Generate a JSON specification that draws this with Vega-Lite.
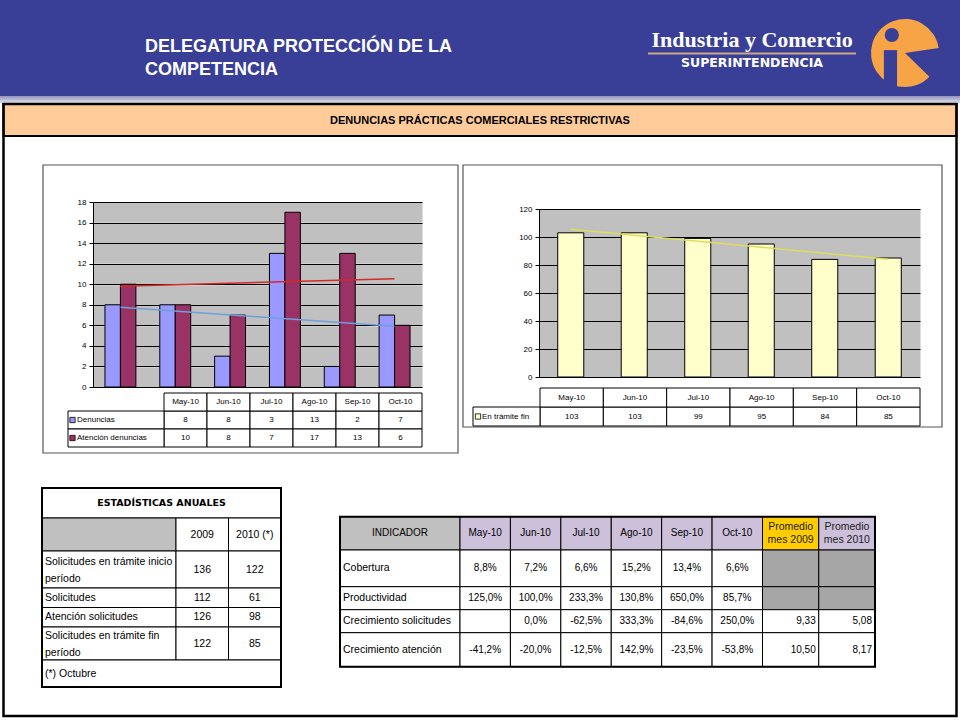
{
"$schema":"https://vega.github.io/schema/vega-lite/v6.json",
"width":960,"height":720,"padding":0,"autosize":{"type":"none"},"background":"white",
"config":{"view":{"stroke":null},"font":"Liberation Sans","locale":{"number":{"decimal":",","thousands":".","grouping":[3],"currency":["$",""],"minus":"-"}}},
"datasets":{
"den":[
{"mes":"May-10","idx":1,"serie":"Denuncias","valor":8},
{"mes":"Jun-10","idx":2,"serie":"Denuncias","valor":8},
{"mes":"Jul-10","idx":3,"serie":"Denuncias","valor":3},
{"mes":"Ago-10","idx":4,"serie":"Denuncias","valor":13},
{"mes":"Sep-10","idx":5,"serie":"Denuncias","valor":2},
{"mes":"Oct-10","idx":6,"serie":"Denuncias","valor":7},
{"mes":"May-10","idx":1,"serie":"Atención denuncias","valor":10},
{"mes":"Jun-10","idx":2,"serie":"Atención denuncias","valor":8},
{"mes":"Jul-10","idx":3,"serie":"Atención denuncias","valor":7},
{"mes":"Ago-10","idx":4,"serie":"Atención denuncias","valor":17},
{"mes":"Sep-10","idx":5,"serie":"Atención denuncias","valor":13},
{"mes":"Oct-10","idx":6,"serie":"Atención denuncias","valor":6}],
"tram":[
{"mes":"May-10","idx":1,"serie":"En trámite fin","valor":103},
{"mes":"Jun-10","idx":2,"serie":"En trámite fin","valor":103},
{"mes":"Jul-10","idx":3,"serie":"En trámite fin","valor":99},
{"mes":"Ago-10","idx":4,"serie":"En trámite fin","valor":95},
{"mes":"Sep-10","idx":5,"serie":"En trámite fin","valor":84},
{"mes":"Oct-10","idx":6,"serie":"En trámite fin","valor":85}],
"anual":[
{"fila":"Solicitudes en trámite inicio\nperíodo","2009":136,"2010 (*)":122},
{"fila":"Solicitudes","2009":112,"2010 (*)":61},
{"fila":"Atención solicitudes","2009":126,"2010 (*)":98},
{"fila":"Solicitudes en trámite fin\nperíodo","2009":122,"2010 (*)":85}],
"ind":[
{"indicador":"Cobertura","col":"May-10","valor":0.088},
{"indicador":"Cobertura","col":"Jun-10","valor":0.072},
{"indicador":"Cobertura","col":"Jul-10","valor":0.066},
{"indicador":"Cobertura","col":"Ago-10","valor":0.152},
{"indicador":"Cobertura","col":"Sep-10","valor":0.134},
{"indicador":"Cobertura","col":"Oct-10","valor":0.066},
{"indicador":"Cobertura","col":"Promedio\nmes 2009","valor":null},
{"indicador":"Cobertura","col":"Promedio\nmes 2010","valor":null},
{"indicador":"Productividad","col":"May-10","valor":1.25},
{"indicador":"Productividad","col":"Jun-10","valor":1.0},
{"indicador":"Productividad","col":"Jul-10","valor":2.333},
{"indicador":"Productividad","col":"Ago-10","valor":1.308},
{"indicador":"Productividad","col":"Sep-10","valor":6.5},
{"indicador":"Productividad","col":"Oct-10","valor":0.857},
{"indicador":"Productividad","col":"Promedio\nmes 2009","valor":null},
{"indicador":"Productividad","col":"Promedio\nmes 2010","valor":null},
{"indicador":"Crecimiento solicitudes","col":"May-10","valor":null},
{"indicador":"Crecimiento solicitudes","col":"Jun-10","valor":0},
{"indicador":"Crecimiento solicitudes","col":"Jul-10","valor":-0.625},
{"indicador":"Crecimiento solicitudes","col":"Ago-10","valor":3.333},
{"indicador":"Crecimiento solicitudes","col":"Sep-10","valor":-0.846},
{"indicador":"Crecimiento solicitudes","col":"Oct-10","valor":2.5},
{"indicador":"Crecimiento solicitudes","col":"Promedio\nmes 2009","valor":9.33},
{"indicador":"Crecimiento solicitudes","col":"Promedio\nmes 2010","valor":5.08},
{"indicador":"Crecimiento atención","col":"May-10","valor":-0.412},
{"indicador":"Crecimiento atención","col":"Jun-10","valor":-0.2},
{"indicador":"Crecimiento atención","col":"Jul-10","valor":-0.125},
{"indicador":"Crecimiento atención","col":"Ago-10","valor":1.429},
{"indicador":"Crecimiento atención","col":"Sep-10","valor":-0.235},
{"indicador":"Crecimiento atención","col":"Oct-10","valor":-0.538},
{"indicador":"Crecimiento atención","col":"Promedio\nmes 2009","valor":10.5},
{"indicador":"Crecimiento atención","col":"Promedio\nmes 2010","valor":8.17}]
},
"resolve":{"scale":{"x":"independent","y":"independent","xOffset":"independent"},"axis":{"x":"independent","y":"independent"}},
"layer":[
{"data":{"values":[{"zona":"encabezado"}]},"mark":{"type":"rect","fill":"#393e97"},
 "encoding":{"x":{"field":"zona","type":"nominal","scale":{"type":"band","range":[0,960],"paddingInner":0,"paddingOuter":0},"axis":null},
  "y":{"field":"zona","type":"nominal","scale":{"type":"band","range":[0,96],"paddingInner":0,"paddingOuter":0},"axis":null}}},
{"data":{"values":[{"zona":"franja"}]},"mark":{"type":"rect","fill":{"gradient":"linear","x1":0,"y1":0,"x2":0,"y2":1,"stops":[{"offset":0,"color":"#8f92bd"},{"offset":1,"color":"#e2e2ea"}]}},
 "encoding":{"x":{"field":"zona","type":"nominal","scale":{"type":"band","range":[0,960],"paddingInner":0,"paddingOuter":0},"axis":null},
  "y":{"field":"zona","type":"nominal","scale":{"type":"band","range":[96,103],"paddingInner":0,"paddingOuter":0},"axis":null}}},
{"data":{"values":[{"linea":"DELEGATURA PROTECCIÓN DE LA"},{"linea":"COMPETENCIA"}]},
 "mark":{"type":"text","align":"left","baseline":"middle","fontSize":18,"fontWeight":"bold","color":"white"},
 "encoding":{"x":{"datum":"titulo","type":"nominal","bandPosition":0,"scale":{"type":"band","domain":["titulo"],"range":[145,470],"paddingInner":0,"paddingOuter":0},"axis":null},
  "y":{"field":"linea","type":"nominal","sort":null,"scale":{"type":"band","range":[36,81],"paddingInner":0,"paddingOuter":0},"axis":null},
  "text":{"field":"linea"}}},
{"data":{"values":[{"marca":"Industria y Comercio"}]},
 "mark":{"type":"text","baseline":"middle","fontSize":22,"fontWeight":"bold","font":"Liberation Serif","color":"white"},
 "encoding":{"x":{"field":"marca","type":"nominal","scale":{"type":"band","range":[648,856],"paddingInner":0,"paddingOuter":0},"axis":null},
  "y":{"field":"marca","type":"nominal","scale":{"type":"band","range":[29,51],"paddingInner":0,"paddingOuter":0},"axis":null},
  "text":{"field":"marca"}}},
{"data":{"values":[{"filete":"linea"}]},"mark":{"type":"rect","fill":"#c9a886"},
 "encoding":{"x":{"field":"filete","type":"nominal","scale":{"type":"band","range":[648,856],"paddingInner":0,"paddingOuter":0},"axis":null},
  "y":{"field":"filete","type":"nominal","scale":{"type":"band","range":[52.5,54.5],"paddingInner":0,"paddingOuter":0},"axis":null}}},
{"data":{"values":[{"marca":"SUPERINTENDENCIA"}]},
 "mark":{"type":"text","baseline":"middle","fontSize":12.5,"fontWeight":"bold","font":"DejaVu Sans","color":"white"},
 "encoding":{"x":{"field":"marca","type":"nominal","scale":{"type":"band","range":[648,856],"paddingInner":0,"paddingOuter":0},"axis":null},
  "y":{"field":"marca","type":"nominal","scale":{"type":"band","range":[57,69],"paddingInner":0,"paddingOuter":0},"axis":null},
  "text":{"field":"marca"}}},
{"data":{"values":[{"marca":"ic"}]},
 "encoding":{"x":{"datum":50,"type":"quantitative","scale":{"domain":[0,100],"range":[872,938],"nice":false,"zero":false},"axis":null},
  "y":{"datum":50,"type":"quantitative","scale":{"domain":[0,100],"range":[17,89],"nice":false,"zero":false},"axis":null}},
 "layer":[
  {"mark":{"type":"arc","theta":2.34,"theta2":7.71,"radius":34,"fill":"#f6a445"}},
  {"mark":{"type":"rect","fill":"#393e97"},"encoding":{"x":{"datum":18,"type":"quantitative"},"x2":{"datum":38},"y":{"datum":46,"type":"quantitative"},"y2":{"datum":100}}},
  {"mark":{"type":"point","shape":"circle","filled":true,"size":200,"color":"#393e97","opacity":1},"encoding":{"x":{"datum":30,"type":"quantitative"},"y":{"datum":25,"type":"quantitative"}}}
 ]},
{"data":{"values":[{"titulo":"DENUNCIAS PRÁCTICAS COMERCIALES RESTRICTIVAS"}]},
 "encoding":{"x":{"field":"titulo","type":"nominal","scale":{"type":"band","range":[3.5,956.5],"paddingInner":0,"paddingOuter":0},"axis":null},
  "y":{"field":"titulo","type":"nominal","scale":{"type":"band","range":[104,136],"paddingInner":0,"paddingOuter":0},"axis":null}},
 "layer":[{"mark":{"type":"rect","fill":"#ffcc99","stroke":"black","strokeWidth":2}},
  {"mark":{"type":"text","fontSize":11,"fontWeight":"bold","color":"black","dy":1},"encoding":{"text":{"field":"titulo"}}}]},
{"data":{"values":[{"marco":"diapositiva"}]},"mark":{"type":"rect","filled":false,"stroke":"black","strokeWidth":2.5},
 "encoding":{"x":{"field":"marco","type":"nominal","scale":{"type":"band","range":[3.5,956.5],"paddingInner":0,"paddingOuter":0},"axis":null},
  "y":{"field":"marco","type":"nominal","scale":{"type":"band","range":[104,716],"paddingInner":0,"paddingOuter":0},"axis":null}}},
{"data":{"values":[{"panel":"denuncias"}]},"mark":{"type":"rect","filled":false,"stroke":"#555555","strokeWidth":1.2},
 "encoding":{"x":{"field":"panel","type":"nominal","scale":{"type":"band","range":[43,458],"paddingInner":0,"paddingOuter":0},"axis":null},
  "y":{"field":"panel","type":"nominal","scale":{"type":"band","range":[165,453],"paddingInner":0,"paddingOuter":0},"axis":null}}},
{"data":{"values":[{"panel":"tramite"}]},"mark":{"type":"rect","filled":false,"stroke":"#555555","strokeWidth":1.2},
 "encoding":{"x":{"field":"panel","type":"nominal","scale":{"type":"band","range":[463,942],"paddingInner":0,"paddingOuter":0},"axis":null},
  "y":{"field":"panel","type":"nominal","scale":{"type":"band","range":[165,427],"paddingInner":0,"paddingOuter":0},"axis":null}}},
{"data":{"name":"den"},
 "resolve":{"axis":{"y":"independent"}},
 "encoding":{"x":{"field":"mes","type":"nominal","scale":{"type":"band","domain":["May-10","Jun-10","Jul-10","Ago-10","Sep-10","Oct-10"],"range":[93,422],"paddingInner":0.436,"paddingOuter":0.218},"axis":null}},
 "layer":[
  {"mark":{"type":"bar","opacity":0},
   "encoding":{"y":{"field":"valor","type":"quantitative","stack":null,"scale":{"domain":[0,18],"range":[387,202],"nice":false,"zero":false},
    "axis":{"orient":"left","offset":-93,"values":[1,3,5,7,9,11,13,15,17],"grid":true,"gridColor":"#c0c0c0","gridOpacity":1,"gridWidth":20.6,"gridCap":"butt","domain":false,"ticks":false,"labels":false,"title":null}}}},
  {"mark":{"type":"bar","stroke":"black","strokeWidth":1},
   "encoding":{"y":{"field":"valor","type":"quantitative","stack":null,"scale":{"domain":[0,18],"range":[387,202],"nice":false,"zero":false},
    "axis":{"orient":"left","offset":-93,"values":[0,2,4,6,8,10,12,14,16,18],"grid":true,"gridColor":"black","gridOpacity":1,"gridWidth":1,"domain":true,"domainColor":"black","domainWidth":1,"ticks":true,"tickColor":"black","tickSize":4,"labelFontSize":8,"labelColor":"black","labelPadding":3,"title":null}},
    "xOffset":{"field":"serie","type":"nominal","scale":{"domain":["Denuncias","Atención denuncias"],"paddingInner":0,"paddingOuter":0}},
    "color":{"field":"serie","type":"nominal","scale":{"domain":["Denuncias","Atención denuncias"],"range":["#9999ff","#993366"]},"legend":null}}},
  {"transform":[{"regression":"valor","on":"idx","groupby":["serie"]},{"lookup":"idx","from":{"data":{"name":"den"},"key":"idx","fields":["mes"]}}],
   "mark":{"type":"line","strokeWidth":1.5},
   "encoding":{"y":{"field":"valor","type":"quantitative","scale":{"domain":[0,18],"range":[387,202],"nice":false,"zero":false},"axis":null},
    "stroke":{"field":"serie","type":"nominal","scale":{"domain":["Denuncias","Atención denuncias"],"range":["#6f9fdc","#d42a2a"]},"legend":null}}}
 ]},
{"data":{"name":"den"},
 "encoding":{"x":{"field":"mes","type":"nominal","scale":{"type":"band","domain":["May-10","Jun-10","Jul-10","Ago-10","Sep-10","Oct-10"],"range":[164,422],"paddingInner":0,"paddingOuter":0},"axis":null},
  "y":{"field":"serie","type":"nominal","scale":{"type":"band","domain":["meses","Denuncias","Atención denuncias"],"range":[393,447],"paddingInner":0,"paddingOuter":0},"axis":null}},
 "layer":[
  {"mark":{"type":"rect","fill":"white","stroke":"black","strokeWidth":1}},
  {"mark":{"type":"text","fontSize":8,"color":"black"},"encoding":{"text":{"field":"valor","type":"quantitative"}}},
  {"transform":[{"filter":"datum.serie === 'Denuncias'"}],"mark":{"type":"rect","fill":"white","stroke":"black","strokeWidth":1},"encoding":{"y":{"datum":"meses","type":"nominal"}}},
  {"transform":[{"filter":"datum.serie === 'Denuncias'"}],"mark":{"type":"text","fontSize":8,"color":"black"},"encoding":{"y":{"datum":"meses","type":"nominal"},"text":{"field":"mes"}}}
 ]},
{"data":{"name":"den"},"transform":[{"filter":"datum.idx === 1"}],
 "encoding":{"x":{"datum":"leyenda","type":"nominal","scale":{"type":"band","domain":["leyenda"],"range":[68,164],"paddingInner":0,"paddingOuter":0},"axis":null},
  "y":{"field":"serie","type":"nominal","scale":{"type":"band","domain":["meses","Denuncias","Atención denuncias"],"range":[393,447],"paddingInner":0,"paddingOuter":0},"axis":null}},
 "layer":[
  {"mark":{"type":"rect","fill":"white","stroke":"black","strokeWidth":1}},
  {"mark":{"type":"point","shape":"square","filled":true,"size":28,"stroke":"black","strokeWidth":0.8,"opacity":1,"xOffset":4.5},
   "encoding":{"x":{"datum":"leyenda","type":"nominal","bandPosition":0},"color":{"field":"serie","type":"nominal","scale":{"domain":["Denuncias","Atención denuncias"],"range":["#9999ff","#993366"]},"legend":null}}},
  {"mark":{"type":"text","align":"left","dx":9,"fontSize":8,"color":"black"},"encoding":{"x":{"datum":"leyenda","type":"nominal","bandPosition":0},"text":{"field":"serie"}}}
 ]},
{"data":{"name":"tram"},
 "resolve":{"axis":{"y":"independent"}},
 "encoding":{"x":{"field":"mes","type":"nominal","scale":{"type":"band","domain":["May-10","Jun-10","Jul-10","Ago-10","Sep-10","Oct-10"],"range":[539,920],"paddingInner":0.59,"paddingOuter":0.295},"axis":null}},
 "layer":[
  {"mark":{"type":"bar","opacity":0},
   "encoding":{"y":{"field":"valor","type":"quantitative","stack":null,"scale":{"domain":[0,120],"range":[377,209],"nice":false,"zero":false},
    "axis":{"orient":"left","offset":-539,"values":[10,30,50,70,90,110],"grid":true,"gridColor":"#c0c0c0","gridOpacity":1,"gridWidth":28,"gridCap":"butt","domain":false,"ticks":false,"labels":false,"title":null}}}},
  {"mark":{"type":"bar","fill":"#ffffcc","stroke":"black","strokeWidth":1},
   "encoding":{"y":{"field":"valor","type":"quantitative","stack":null,"scale":{"domain":[0,120],"range":[377,209],"nice":false,"zero":false},
    "axis":{"orient":"left","offset":-539,"values":[0,20,40,60,80,100,120],"grid":true,"gridColor":"black","gridOpacity":1,"gridWidth":1,"domain":true,"domainColor":"black","domainWidth":1,"ticks":true,"tickColor":"black","tickSize":4,"labelFontSize":8,"labelColor":"black","labelPadding":3,"title":null}}}},
  {"transform":[{"regression":"valor","on":"idx"},{"lookup":"idx","from":{"data":{"name":"tram"},"key":"idx","fields":["mes"]}}],
   "mark":{"type":"line","stroke":"#dede5e","strokeWidth":1.5},
   "encoding":{"y":{"field":"valor","type":"quantitative","scale":{"domain":[0,120],"range":[377,209],"nice":false,"zero":false},"axis":null}}}
 ]},
{"data":{"name":"tram"},
 "encoding":{"x":{"field":"mes","type":"nominal","scale":{"type":"band","domain":["May-10","Jun-10","Jul-10","Ago-10","Sep-10","Oct-10"],"range":[540,920],"paddingInner":0,"paddingOuter":0},"axis":null},
  "y":{"field":"serie","type":"nominal","scale":{"type":"band","domain":["meses","En trámite fin"],"range":[388,426],"paddingInner":0,"paddingOuter":0},"axis":null}},
 "layer":[
  {"mark":{"type":"rect","fill":"white","stroke":"black","strokeWidth":1}},
  {"mark":{"type":"text","fontSize":8,"color":"black"},"encoding":{"text":{"field":"valor","type":"quantitative"}}},
  {"mark":{"type":"rect","fill":"white","stroke":"black","strokeWidth":1},"encoding":{"y":{"datum":"meses","type":"nominal"}}},
  {"mark":{"type":"text","fontSize":8,"color":"black"},"encoding":{"y":{"datum":"meses","type":"nominal"},"text":{"field":"mes"}}}
 ]},
{"data":{"name":"tram"},"transform":[{"filter":"datum.idx === 1"}],
 "encoding":{"x":{"datum":"leyenda","type":"nominal","scale":{"type":"band","domain":["leyenda"],"range":[473,540],"paddingInner":0,"paddingOuter":0},"axis":null},
  "y":{"field":"serie","type":"nominal","scale":{"type":"band","domain":["meses","En trámite fin"],"range":[388,426],"paddingInner":0,"paddingOuter":0},"axis":null}},
 "layer":[
  {"mark":{"type":"rect","fill":"white","stroke":"black","strokeWidth":1}},
  {"mark":{"type":"point","shape":"square","filled":true,"size":28,"fill":"#ffffcc","stroke":"black","strokeWidth":0.8,"opacity":1,"xOffset":5},"encoding":{"x":{"datum":"leyenda","type":"nominal","bandPosition":0}}},
  {"mark":{"type":"text","align":"left","dx":9,"fontSize":8,"color":"black"},"encoding":{"x":{"datum":"leyenda","type":"nominal","bandPosition":0},"text":{"field":"serie"}}}
 ]},
{"data":{"values":[{"titulo":"ESTADÍSTICAS ANUALES"}]},
 "encoding":{"x":{"field":"titulo","type":"nominal","scale":{"type":"band","range":[42,281],"paddingInner":0,"paddingOuter":0},"axis":null},
  "y":{"field":"titulo","type":"nominal","scale":{"type":"band","range":[488,518],"paddingInner":0,"paddingOuter":0},"axis":null}},
 "layer":[{"mark":{"type":"rect","fill":"white","stroke":"black","strokeWidth":1}},
  {"mark":{"type":"text","font":"DejaVu Sans","fontSize":9.5,"fontWeight":"bold","color":"black"},"encoding":{"text":{"field":"titulo"}}}]},
{"data":{"values":[{"celda":"vacía"}]},"mark":{"type":"rect","fill":"#c0c0c0","stroke":"black","strokeWidth":1},
 "encoding":{"x":{"field":"celda","type":"nominal","scale":{"type":"band","range":[42,176],"paddingInner":0,"paddingOuter":0},"axis":null},
  "y":{"field":"celda","type":"nominal","scale":{"type":"band","range":[518,551],"paddingInner":0,"paddingOuter":0},"axis":null}}},
{"data":{"values":[{"año":"2009"},{"año":"2010 (*)"}]},
 "encoding":{"x":{"field":"año","type":"nominal","scale":{"type":"band","domain":["2009","2010 (*)"],"range":[176,281],"paddingInner":0,"paddingOuter":0},"axis":null},
  "y":{"datum":"encabezado","type":"nominal","scale":{"type":"band","domain":["encabezado"],"range":[518,551],"paddingInner":0,"paddingOuter":0},"axis":null}},
 "layer":[{"mark":{"type":"rect","fill":"white","stroke":"black","strokeWidth":1}},
  {"mark":{"type":"text","fontSize":10.5,"color":"black"},"encoding":{"text":{"field":"año"}}}]},
{"data":{"name":"anual"},"transform":[{"filter":"indexof(datum.fila, 'inicio') > 0"}],
 "encoding":{"x":{"datum":"etiqueta","type":"nominal","scale":{"type":"band","domain":["etiqueta"],"range":[42,176],"paddingInner":0,"paddingOuter":0},"axis":null},
  "y":{"field":"fila","type":"nominal","scale":{"type":"band","range":[551,588],"paddingInner":0,"paddingOuter":0},"axis":null}},
 "layer":[{"mark":{"type":"rect","fill":"white","stroke":"black","strokeWidth":1}},
  {"mark":{"type":"text","align":"left","dx":3,"dy":-8,"fontSize":10.5,"lineBreak":"\n","lineHeight":17,"color":"black"},"encoding":{"x":{"datum":"etiqueta","type":"nominal","bandPosition":0},"text":{"field":"fila"}}}]},
{"data":{"name":"anual"},"transform":[{"filter":"indexof(datum.fila, 'inicio') > 0"},{"fold":["2009","2010 (*)"],"as":["año","valor"]}],
 "encoding":{"x":{"field":"año","type":"nominal","scale":{"type":"band","domain":["2009","2010 (*)"],"range":[176,281],"paddingInner":0,"paddingOuter":0},"axis":null},
  "y":{"field":"fila","type":"nominal","scale":{"type":"band","range":[551,588],"paddingInner":0,"paddingOuter":0},"axis":null}},
 "layer":[{"mark":{"type":"rect","fill":"white","stroke":"black","strokeWidth":1}},
  {"mark":{"type":"text","fontSize":10.5,"color":"black"},"encoding":{"text":{"field":"valor","type":"quantitative"}}}]},
{"data":{"name":"anual"},"transform":[{"filter":"indexof(datum.fila, 'trámite') < 0"}],
 "encoding":{"x":{"datum":"etiqueta","type":"nominal","scale":{"type":"band","domain":["etiqueta"],"range":[42,176],"paddingInner":0,"paddingOuter":0},"axis":null},
  "y":{"field":"fila","type":"nominal","scale":{"type":"band","domain":["Solicitudes","Atención solicitudes"],"range":[588,627],"paddingInner":0,"paddingOuter":0},"axis":null}},
 "layer":[{"mark":{"type":"rect","fill":"white","stroke":"black","strokeWidth":1}},
  {"mark":{"type":"text","align":"left","dx":3,"fontSize":10.5,"color":"black"},"encoding":{"x":{"datum":"etiqueta","type":"nominal","bandPosition":0},"text":{"field":"fila"}}}]},
{"data":{"name":"anual"},"transform":[{"filter":"indexof(datum.fila, 'trámite') < 0"},{"fold":["2009","2010 (*)"],"as":["año","valor"]}],
 "encoding":{"x":{"field":"año","type":"nominal","scale":{"type":"band","domain":["2009","2010 (*)"],"range":[176,281],"paddingInner":0,"paddingOuter":0},"axis":null},
  "y":{"field":"fila","type":"nominal","scale":{"type":"band","domain":["Solicitudes","Atención solicitudes"],"range":[588,627],"paddingInner":0,"paddingOuter":0},"axis":null}},
 "layer":[{"mark":{"type":"rect","fill":"white","stroke":"black","strokeWidth":1}},
  {"mark":{"type":"text","fontSize":10.5,"color":"black"},"encoding":{"text":{"field":"valor","type":"quantitative"}}}]},
{"data":{"name":"anual"},"transform":[{"filter":"indexof(datum.fila, ' fin') > 0"}],
 "encoding":{"x":{"datum":"etiqueta","type":"nominal","scale":{"type":"band","domain":["etiqueta"],"range":[42,176],"paddingInner":0,"paddingOuter":0},"axis":null},
  "y":{"field":"fila","type":"nominal","scale":{"type":"band","range":[627,660],"paddingInner":0,"paddingOuter":0},"axis":null}},
 "layer":[{"mark":{"type":"rect","fill":"white","stroke":"black","strokeWidth":1}},
  {"mark":{"type":"text","align":"left","dx":3,"dy":-8,"fontSize":10.5,"lineBreak":"\n","lineHeight":17,"color":"black"},"encoding":{"x":{"datum":"etiqueta","type":"nominal","bandPosition":0},"text":{"field":"fila"}}}]},
{"data":{"name":"anual"},"transform":[{"filter":"indexof(datum.fila, ' fin') > 0"},{"fold":["2009","2010 (*)"],"as":["año","valor"]}],
 "encoding":{"x":{"field":"año","type":"nominal","scale":{"type":"band","domain":["2009","2010 (*)"],"range":[176,281],"paddingInner":0,"paddingOuter":0},"axis":null},
  "y":{"field":"fila","type":"nominal","scale":{"type":"band","range":[627,660],"paddingInner":0,"paddingOuter":0},"axis":null}},
 "layer":[{"mark":{"type":"rect","fill":"white","stroke":"black","strokeWidth":1}},
  {"mark":{"type":"text","fontSize":10.5,"color":"black"},"encoding":{"text":{"field":"valor","type":"quantitative"}}}]},
{"data":{"values":[{"nota":"(*) Octubre"}]},
 "encoding":{"x":{"field":"nota","type":"nominal","scale":{"type":"band","range":[42,281],"paddingInner":0,"paddingOuter":0},"axis":null},
  "y":{"field":"nota","type":"nominal","scale":{"type":"band","range":[660,687],"paddingInner":0,"paddingOuter":0},"axis":null}},
 "layer":[{"mark":{"type":"rect","fill":"white","stroke":"black","strokeWidth":1}},
  {"mark":{"type":"text","align":"left","dx":3,"fontSize":10.5,"color":"black"},"encoding":{"x":{"field":"nota","type":"nominal","bandPosition":0},"text":{"field":"nota"}}}]},
{"data":{"values":[{"borde":"tabla anual"}]},"mark":{"type":"rect","filled":false,"stroke":"black","strokeWidth":2},
 "encoding":{"x":{"field":"borde","type":"nominal","scale":{"type":"band","range":[42,281],"paddingInner":0,"paddingOuter":0},"axis":null},
  "y":{"field":"borde","type":"nominal","scale":{"type":"band","range":[488,687],"paddingInner":0,"paddingOuter":0},"axis":null}}},
{"data":{"values":[{"encabezado":"INDICADOR"}]},
 "encoding":{"x":{"field":"encabezado","type":"nominal","scale":{"type":"band","range":[340,460],"paddingInner":0,"paddingOuter":0},"axis":null},
  "y":{"field":"encabezado","type":"nominal","scale":{"type":"band","range":[516.7,550],"paddingInner":0,"paddingOuter":0},"axis":null}},
 "layer":[{"mark":{"type":"rect","fill":"#c0c0c0","stroke":"black","strokeWidth":1}},
  {"mark":{"type":"text","fontSize":10,"color":"black"},"encoding":{"text":{"field":"encabezado"}}}]},
{"data":{"name":"ind"},"transform":[{"filter":"datum.indicador === 'Cobertura' && indexof(datum.col, 'Promedio') < 0"}],
 "encoding":{"x":{"field":"col","type":"nominal","scale":{"type":"band","domain":["May-10","Jun-10","Jul-10","Ago-10","Sep-10","Oct-10"],"range":[460,762.5],"paddingInner":0,"paddingOuter":0},"axis":null},
  "y":{"datum":"encabezado","type":"nominal","scale":{"type":"band","domain":["encabezado"],"range":[516.7,550],"paddingInner":0,"paddingOuter":0},"axis":null}},
 "layer":[{"mark":{"type":"rect","fill":"#ccc0da","stroke":"black","strokeWidth":1}},
  {"mark":{"type":"text","fontSize":10,"color":"black"},"encoding":{"text":{"field":"col"}}}]},
{"data":{"name":"ind"},"transform":[{"filter":"datum.indicador === 'Cobertura' && indexof(datum.col, 'Promedio') === 0"}],
 "encoding":{"x":{"field":"col","type":"nominal","scale":{"type":"band","domain":["Promedio\nmes 2009","Promedio\nmes 2010"],"range":[762.5,875],"paddingInner":0,"paddingOuter":0},"axis":null},
  "y":{"datum":"encabezado","type":"nominal","scale":{"type":"band","domain":["encabezado"],"range":[516.7,550],"paddingInner":0,"paddingOuter":0},"axis":null}},
 "layer":[{"mark":{"type":"rect","stroke":"black","strokeWidth":1},"encoding":{"fill":{"condition":{"test":"indexof(datum.col, '2009') > 0","value":"#ffcc00"},"value":"#ccc0da"}}},
  {"mark":{"type":"text","fontSize":10.5,"lineBreak":"\n","lineHeight":13,"dy":-6,"color":"#222222"},"encoding":{"text":{"field":"col"}}}]},
{"data":{"name":"ind"},"transform":[{"filter":"datum.indicador === 'Cobertura' && datum.col === 'May-10'"}],
 "encoding":{"x":{"datum":"indicador","type":"nominal","scale":{"type":"band","domain":["indicador"],"range":[340,460],"paddingInner":0,"paddingOuter":0},"axis":null},
  "y":{"field":"indicador","type":"nominal","scale":{"type":"band","range":[550,586.7],"paddingInner":0,"paddingOuter":0},"axis":null}},
 "layer":[{"mark":{"type":"rect","fill":"white","stroke":"black","strokeWidth":1}},
  {"mark":{"type":"text","align":"left","dx":3,"fontSize":10.5,"color":"black"},"encoding":{"x":{"datum":"indicador","type":"nominal","bandPosition":0},"text":{"field":"indicador"}}}]},
{"data":{"name":"ind"},"transform":[{"filter":"datum.indicador === 'Cobertura' && indexof(datum.col, 'Promedio') < 0"}],
 "encoding":{"x":{"field":"col","type":"nominal","scale":{"type":"band","domain":["May-10","Jun-10","Jul-10","Ago-10","Sep-10","Oct-10"],"range":[460,762.5],"paddingInner":0,"paddingOuter":0},"axis":null},
  "y":{"field":"indicador","type":"nominal","scale":{"type":"band","range":[550,586.7],"paddingInner":0,"paddingOuter":0},"axis":null}},
 "layer":[{"mark":{"type":"rect","fill":"white","stroke":"black","strokeWidth":1}},
  {"transform":[{"filter":"isValid(datum.valor)"}],"mark":{"type":"text","fontSize":10,"color":"black"},"encoding":{"text":{"field":"valor","type":"quantitative","format":".1%"}}}]},
{"data":{"name":"ind"},"transform":[{"filter":"datum.indicador === 'Cobertura' && indexof(datum.col, 'Promedio') === 0"}],
 "encoding":{"x":{"field":"col","type":"nominal","scale":{"type":"band","domain":["Promedio\nmes 2009","Promedio\nmes 2010"],"range":[762.5,875],"paddingInner":0,"paddingOuter":0},"axis":null},
  "y":{"field":"indicador","type":"nominal","scale":{"type":"band","range":[550,586.7],"paddingInner":0,"paddingOuter":0},"axis":null}},
 "layer":[{"mark":{"type":"rect","stroke":"black","strokeWidth":1},"encoding":{"fill":{"condition":{"test":"!isValid(datum.valor)","value":"#a6a6a6"},"value":"white"}}},
  {"transform":[{"filter":"isValid(datum.valor)"}],"mark":{"type":"text","align":"right","dx":-3,"fontSize":10,"color":"black"},"encoding":{"x":{"field":"col","type":"nominal","bandPosition":1},"text":{"field":"valor","type":"quantitative","format":".2f"}}}]},
{"data":{"name":"ind"},"transform":[{"filter":"(datum.indicador === 'Productividad' || datum.indicador === 'Crecimiento solicitudes') && datum.col === 'May-10'"}],
 "encoding":{"x":{"datum":"indicador","type":"nominal","scale":{"type":"band","domain":["indicador"],"range":[340,460],"paddingInner":0,"paddingOuter":0},"axis":null},
  "y":{"field":"indicador","type":"nominal","scale":{"type":"band","domain":["Productividad","Crecimiento solicitudes"],"range":[586.7,632.7],"paddingInner":0,"paddingOuter":0},"axis":null}},
 "layer":[{"mark":{"type":"rect","fill":"white","stroke":"black","strokeWidth":1}},
  {"mark":{"type":"text","align":"left","dx":3,"fontSize":10.5,"color":"black"},"encoding":{"x":{"datum":"indicador","type":"nominal","bandPosition":0},"text":{"field":"indicador"}}}]},
{"data":{"name":"ind"},"transform":[{"filter":"(datum.indicador === 'Productividad' || datum.indicador === 'Crecimiento solicitudes') && indexof(datum.col, 'Promedio') < 0"}],
 "encoding":{"x":{"field":"col","type":"nominal","scale":{"type":"band","domain":["May-10","Jun-10","Jul-10","Ago-10","Sep-10","Oct-10"],"range":[460,762.5],"paddingInner":0,"paddingOuter":0},"axis":null},
  "y":{"field":"indicador","type":"nominal","scale":{"type":"band","domain":["Productividad","Crecimiento solicitudes"],"range":[586.7,632.7],"paddingInner":0,"paddingOuter":0},"axis":null}},
 "layer":[{"mark":{"type":"rect","fill":"white","stroke":"black","strokeWidth":1}},
  {"transform":[{"filter":"isValid(datum.valor)"}],"mark":{"type":"text","fontSize":10,"color":"black"},"encoding":{"text":{"field":"valor","type":"quantitative","format":".1%"}}}]},
{"data":{"name":"ind"},"transform":[{"filter":"(datum.indicador === 'Productividad' || datum.indicador === 'Crecimiento solicitudes') && indexof(datum.col, 'Promedio') === 0"}],
 "encoding":{"x":{"field":"col","type":"nominal","scale":{"type":"band","domain":["Promedio\nmes 2009","Promedio\nmes 2010"],"range":[762.5,875],"paddingInner":0,"paddingOuter":0},"axis":null},
  "y":{"field":"indicador","type":"nominal","scale":{"type":"band","domain":["Productividad","Crecimiento solicitudes"],"range":[586.7,632.7],"paddingInner":0,"paddingOuter":0},"axis":null}},
 "layer":[{"mark":{"type":"rect","stroke":"black","strokeWidth":1},"encoding":{"fill":{"condition":{"test":"!isValid(datum.valor)","value":"#a6a6a6"},"value":"white"}}},
  {"transform":[{"filter":"isValid(datum.valor)"}],"mark":{"type":"text","align":"right","dx":-3,"fontSize":10,"color":"black"},"encoding":{"x":{"field":"col","type":"nominal","bandPosition":1},"text":{"field":"valor","type":"quantitative","format":".2f"}}}]},
{"data":{"name":"ind"},"transform":[{"filter":"datum.indicador === 'Crecimiento atención' && datum.col === 'May-10'"}],
 "encoding":{"x":{"datum":"indicador","type":"nominal","scale":{"type":"band","domain":["indicador"],"range":[340,460],"paddingInner":0,"paddingOuter":0},"axis":null},
  "y":{"field":"indicador","type":"nominal","scale":{"type":"band","range":[632.7,666.7],"paddingInner":0,"paddingOuter":0},"axis":null}},
 "layer":[{"mark":{"type":"rect","fill":"white","stroke":"black","strokeWidth":1}},
  {"mark":{"type":"text","align":"left","dx":3,"fontSize":10.5,"color":"black"},"encoding":{"x":{"datum":"indicador","type":"nominal","bandPosition":0},"text":{"field":"indicador"}}}]},
{"data":{"name":"ind"},"transform":[{"filter":"datum.indicador === 'Crecimiento atención' && indexof(datum.col, 'Promedio') < 0"}],
 "encoding":{"x":{"field":"col","type":"nominal","scale":{"type":"band","domain":["May-10","Jun-10","Jul-10","Ago-10","Sep-10","Oct-10"],"range":[460,762.5],"paddingInner":0,"paddingOuter":0},"axis":null},
  "y":{"field":"indicador","type":"nominal","scale":{"type":"band","range":[632.7,666.7],"paddingInner":0,"paddingOuter":0},"axis":null}},
 "layer":[{"mark":{"type":"rect","fill":"white","stroke":"black","strokeWidth":1}},
  {"transform":[{"filter":"isValid(datum.valor)"}],"mark":{"type":"text","fontSize":10,"color":"black"},"encoding":{"text":{"field":"valor","type":"quantitative","format":".1%"}}}]},
{"data":{"name":"ind"},"transform":[{"filter":"datum.indicador === 'Crecimiento atención' && indexof(datum.col, 'Promedio') === 0"}],
 "encoding":{"x":{"field":"col","type":"nominal","scale":{"type":"band","domain":["Promedio\nmes 2009","Promedio\nmes 2010"],"range":[762.5,875],"paddingInner":0,"paddingOuter":0},"axis":null},
  "y":{"field":"indicador","type":"nominal","scale":{"type":"band","range":[632.7,666.7],"paddingInner":0,"paddingOuter":0},"axis":null}},
 "layer":[{"mark":{"type":"rect","stroke":"black","strokeWidth":1},"encoding":{"fill":{"condition":{"test":"!isValid(datum.valor)","value":"#a6a6a6"},"value":"white"}}},
  {"transform":[{"filter":"isValid(datum.valor)"}],"mark":{"type":"text","align":"right","dx":-3,"fontSize":10,"color":"black"},"encoding":{"x":{"field":"col","type":"nominal","bandPosition":1},"text":{"field":"valor","type":"quantitative","format":".2f"}}}]},
{"data":{"values":[{"borde":"tabla indicadores"}]},"mark":{"type":"rect","filled":false,"stroke":"black","strokeWidth":2},
 "encoding":{"x":{"field":"borde","type":"nominal","scale":{"type":"band","range":[340,875],"paddingInner":0,"paddingOuter":0},"axis":null},
  "y":{"field":"borde","type":"nominal","scale":{"type":"band","range":[516.7,666.7],"paddingInner":0,"paddingOuter":0},"axis":null}}}
]
}
